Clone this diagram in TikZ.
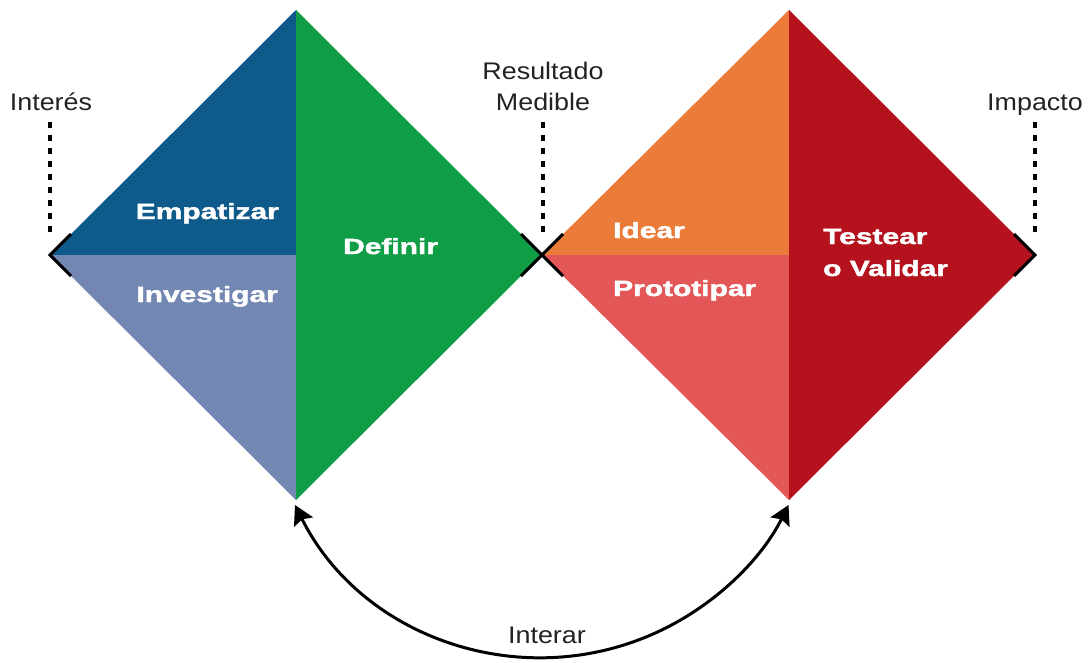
\documentclass[tikz,border=0pt]{standalone}
\usepackage{fontspec}
\setmainfont{Liberation Sans}
\newfontfamily\heavyfont[FakeBold=1.6]{Liberation Sans Bold}
\usetikzlibrary{arrows.meta}
\definecolor{dblue}{HTML}{0E5A8A}
\definecolor{lblue}{HTML}{7287B2}
\definecolor{dgreen}{HTML}{0F9D46}
\definecolor{orng}{HTML}{EA7B38}
\definecolor{salmon}{HTML}{E35759}
\definecolor{dred}{HTML}{B4121C}
\definecolor{lbl}{HTML}{222222}
\tikzset{
  phase/.style={inner sep=0pt, text=white, font=\fontsize{22}{24}\selectfont\heavyfont},
  milestone/.style={inner sep=0pt, text=lbl, font=\fontsize{24}{26}\selectfont},
  dotline/.style={line width=3.5pt, dash pattern=on 6pt off 7pt, black},
  cornermark/.style={line width=3pt, black},
  loop/.style={line width=3pt, black, {Stealth[length=19pt,width=21pt,inset=3pt]}-{Stealth[length=19pt,width=21pt,inset=3pt]}}
}
\newcommand{\wb}[1]{\scalebox{1.36}[1]{#1}}
\newcommand{\wl}[1]{\scalebox{1.12}[1]{#1}}
\begin{document}
\begin{tikzpicture}[x=1pt,y=1pt]
\useasboundingbox (0,0) rectangle (1090,-662);
% vertices
\coordinate (L) at (50,-255);
\coordinate (T1) at (296,-10);
\coordinate (B1) at (296,-500);
\coordinate (C1) at (296,-255);
\coordinate (M) at (542,-255);
\coordinate (T2) at (789,-10);
\coordinate (B2) at (789,-500);
\coordinate (C2) at (789,-255);
\coordinate (R) at (1035,-255);
% left diamond
\fill[dblue] (L) -- (T1) -- (C1) -- cycle;
\fill[lblue] (L) -- (C1) -- (B1) -- cycle;
\fill[dgreen] (T1) -- (M) -- (B1) -- cycle;
% right diamond
\fill[orng] (M) -- (T2) -- (C2) -- cycle;
\fill[salmon] (M) -- (C2) -- (B2) -- cycle;
\fill[dred] (T2) -- (R) -- (B2) -- cycle;
% corner marks
\draw[cornermark] (71,-234) -- (L) -- (71,-276);
\draw[cornermark] (521,-234) -- (M) -- (563,-276);
\draw[cornermark] (563,-234) -- (M) -- (521,-276);
\draw[cornermark] (1014,-234) -- (R) -- (1014,-276);
% phase labels
\node[phase, anchor=base east] (emp) at (279,-219) {\wb{Empatizar}};
\node[phase, anchor=base east] (inv) at (278,-302) {\wb{Investigar}};
\node[phase, anchor=base west] (def) at (343,-254) {\wb{Definir}};
\node[phase, anchor=base west] (ide) at (613,-238) {\wb{Idear}};
\node[phase, anchor=base west] (pro) at (613,-296) {\wb{Prototipar}};
\node[phase, anchor=base west] (tes) at (823,-244) {\wb{Testear}};
\node[phase, anchor=base west] (val) at (823,-276) {\wb{o Validar}};
% milestone labels
\node[milestone, anchor=base] (int) at (51,-110) {\wl{Interés}};
\node[milestone, anchor=base] (res) at (543,-79) {\wl{Resultado}};
\node[milestone, anchor=base] (med) at (543,-110) {\wl{Medible}};
\node[milestone, anchor=base] (imp) at (1035,-110) {\wl{Impacto}};
% dotted leaders
\coordinate (d1) at (50,-122); \coordinate (e1) at (50,-237);
\coordinate (d2) at (543,-122); \coordinate (e2) at (543,-237);
\coordinate (d3) at (1035,-122); \coordinate (e3) at (1035,-237);
\draw[dotline] (d1) -- (e1);
\draw[dotline] (d2) -- (e2);
\draw[dotline] (d3) -- (e3);
% iterate arrow
\coordinate (tipL) at (295,-505);
\coordinate (tipR) at (787,-505);
\draw[loop] (tipL) arc[start angle=206.6, end angle=333.4, radius=276];
\node[milestone, anchor=base] (itr) at (547,-643) {\wl{Interar}};
\end{tikzpicture}
\end{document}
